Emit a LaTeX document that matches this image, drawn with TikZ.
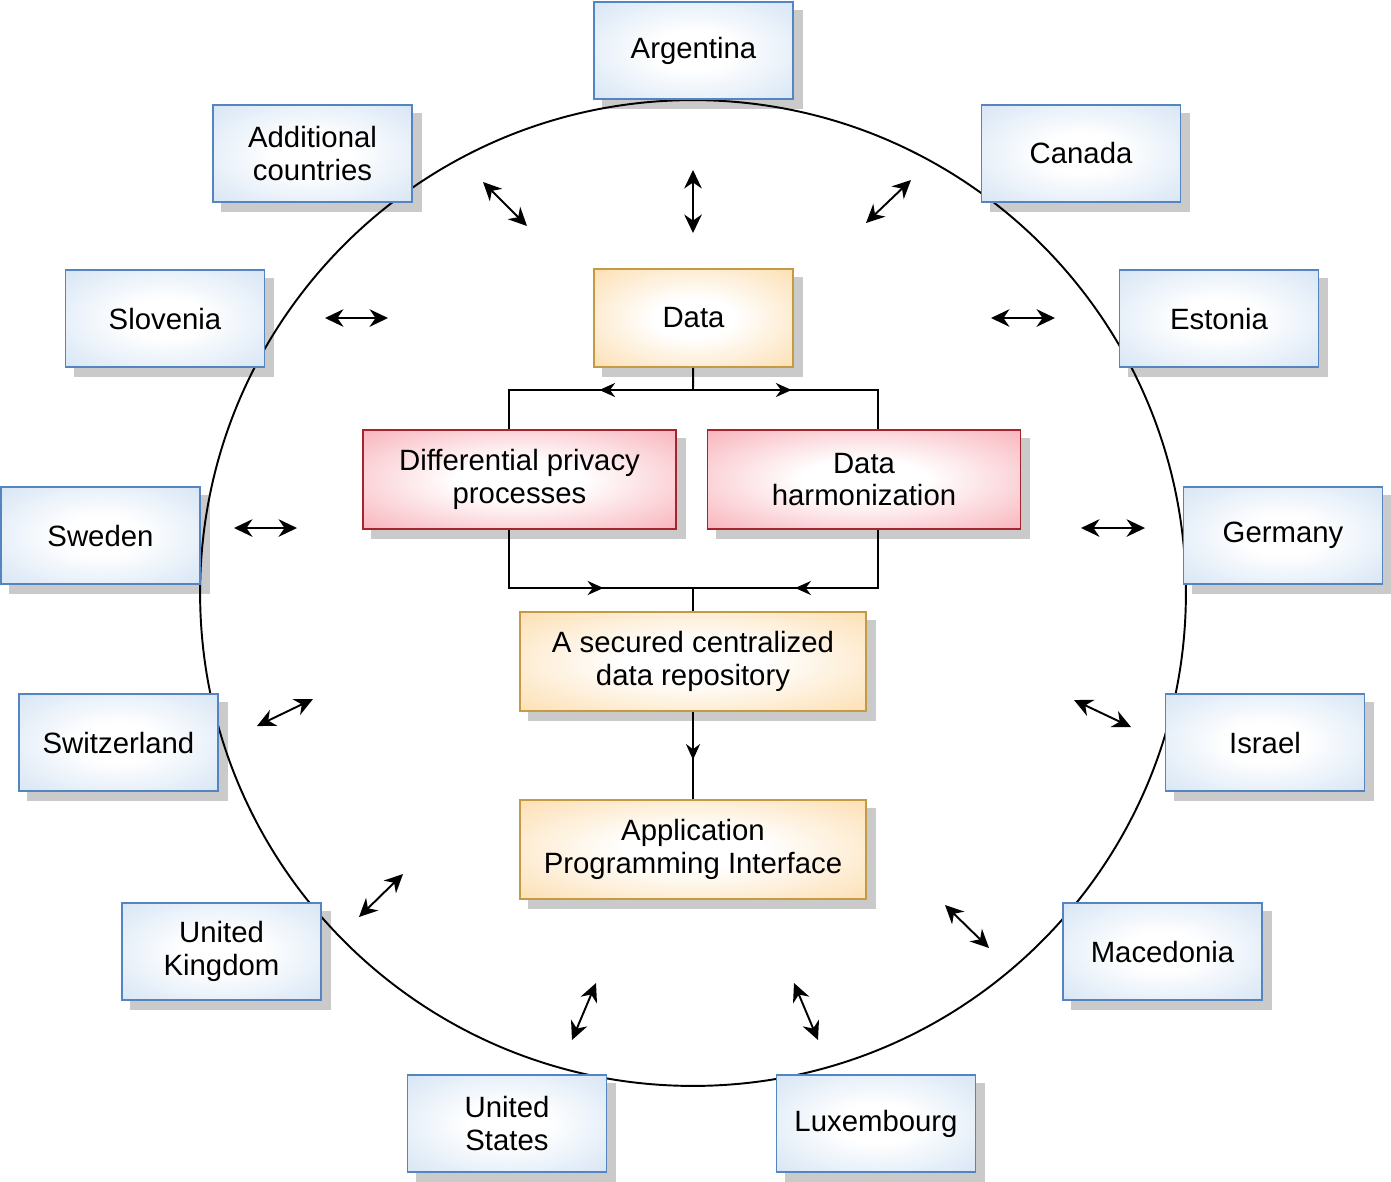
\documentclass[tikz,border=0pt]{standalone}
\usepackage{fontspec}
\setmainfont{Liberation Sans}
\usetikzlibrary{arrows.meta,decorations.markings,backgrounds}
\definecolor{lineblue}{HTML}{5585C0}
\definecolor{fillblue}{HTML}{D0E1F3}
\definecolor{lineorange}{HTML}{C49A45}
\definecolor{fillorange}{HTML}{FCDAA6}
\definecolor{linered}{HTML}{A8232E}
\definecolor{fillred}{HTML}{F7A7B1}
\definecolor{shadowgray}{HTML}{CACACA}
\pgfdeclareradialshading{blueglow}{\pgfpoint{0bp}{0bp}}{color(0bp)=(white); color(10bp)=(white); color(40bp)=(fillblue); color(80bp)=(fillblue)}
\pgfdeclareradialshading{orangeglow}{\pgfpoint{0bp}{0bp}}{color(0bp)=(white); color(10bp)=(white); color(40bp)=(fillorange); color(80bp)=(fillorange)}
\pgfdeclareradialshading{redglow}{\pgfpoint{0bp}{0bp}}{color(0bp)=(white); color(10bp)=(white); color(40bp)=(fillred); color(80bp)=(fillred)}
\tikzset{
  box/.style={draw, line width=1pt, align=center, inner sep=2pt,
    font=\fontsize{16.7}{18.6}\selectfont},
  country/.style={box, draw=lineblue, shading=blueglow,
    minimum width=3.98cm, minimum height=1.94cm},
  store/.style={box, draw=lineorange, shading=orangeglow,
    minimum height=1.98cm},
  process/.style={box, draw=linered, shading=redglow,
    minimum width=6.26cm, minimum height=1.98cm},
  flow/.style={line width=1.1pt},
  midarrow/.style={flow, postaction={decorate}, decoration={markings,
    mark=at position #1 with {\arrow{Stealth[length=9pt,width=8pt]}}}},
  link/.style={line width=1.1pt, {Stealth[length=10.5pt,width=10pt]}-{Stealth[length=10.5pt,width=10pt]}}
}
\newcommand\countrybox[3]{%
  \node[country] (#1) at (#2) {#3}
}

\begin{document}
\begin{tikzpicture}[x=0.02cm, y=-0.02cm]
        \useasboundingbox (0,0) rectangle (1391,1181);
        % The countries round the circle
        \countrybox{arg}{693.5,50.5}{Argentina};
        \countrybox{add}{312.5,153.5}{Additional\\countries};
        \countrybox{can}{1081,153.5}{Canada};
        \countrybox{slo}{165,318.5}{Slovenia};
        \countrybox{est}{1219,318.5}{Estonia};
        \countrybox{swe}{100.5,535.5}{Sweden};
        \countrybox{ger}{1283,535.5}{Germany};
        \countrybox{swi}{118.5,742.5}{Switzerland};
        \countrybox{isr}{1265,742.5}{Israel};
        \countrybox{uk}{221.5,951.5}{United\\Kingdom};
        \countrybox{mac}{1162.5,951.5}{Macedonia};
        \countrybox{us}{507,1123.5}{United\\States};
        \countrybox{lux}{876,1123.5}{Luxembourg};

        % The data flow in the middle
        \node[store, minimum width=3.98cm, minimum height=1.96cm] (data) at (693.5,318) {Data};
        \node[process] (dp) at (519.5,479.5) {Differential privacy\\processes};
        \node[process] (dh) at (864,479.5) {Data\\harmonization};
        \node[store, minimum width=6.92cm] (repo) at (693,661.5) {A secured centralized\\data repository};
        \node[store, minimum width=6.92cm] (api) at (693,849.5) {Application\\Programming Interface};

        \coordinate (split) at (693,390);
        \coordinate (merge) at (693,588);
        \draw[flow] (data) -- (split);
        \draw[midarrow=0.42] (split) -| ([xshift=-0.21cm]dp.north);
        \draw[midarrow=0.44] (split) -| ([xshift=0.28cm]dh.north);
        \draw[midarrow=0.63] ([xshift=-0.21cm]dp.south) |- (merge);
        \draw[midarrow=0.58] ([xshift=0.28cm]dh.south) |- (merge);
        \draw[flow] (merge) -- (repo);
        \draw[midarrow=0.55] (repo) -- (api);

        % Exchange arrows between the countries and the hub
        \foreach \ax/\ay/\bx/\by [count=\i] in {483/182/527/226, 693/170/693/233,
            911/180/866/223, 325/318/388/318, 991/318/1055/318, 234/528/297/528,
            1081/528/1145/528, 257/726/313/699, 1074/700/1131/727, 359/917/403/874,
            945/905/989/948, 572/1040/596/983, 794/983/818/1040} {
          \coordinate (from\i) at (\ax,\ay);
          \coordinate (to\i) at (\bx,\by);
          \draw[link] (from\i) -- (to\i);
        }

        % Shadows and the circle behind the boxes
        \begin{pgfonlayer}{background}
          \foreach \n in {arg,add,can,slo,est,swe,ger,swi,isr,uk,mac,us,lux,data,dp,dh,repo,api}
            \fill[shadowgray] ([xshift=0.18cm,yshift=-0.18cm]\n.south west)
              rectangle ([xshift=0.18cm,yshift=-0.18cm]\n.north east);
          \coordinate (hub) at (693,593);
          \draw[line width=1.1pt] (hub) circle [radius=9.86cm];
        \end{pgfonlayer}
\end{tikzpicture}
\end{document}
